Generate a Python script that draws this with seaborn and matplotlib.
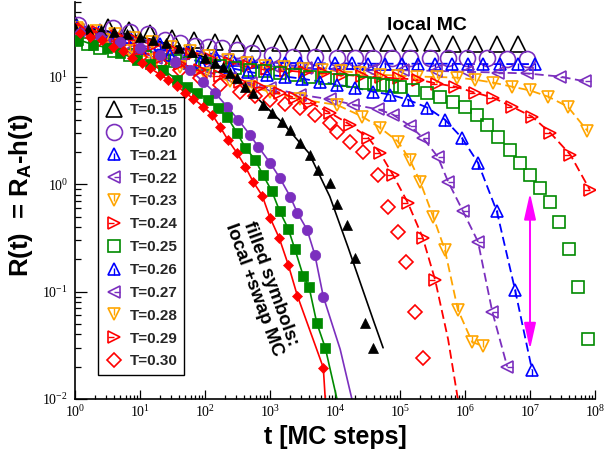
import numpy as np
import matplotlib
matplotlib.use("Agg")
import matplotlib.pyplot as plt
from matplotlib.path import Path
from matplotlib.ticker import LogLocator, FuncFormatter, NullFormatter
import seaborn as sns

sns.set_theme(style="ticks")
plt.rcParams["font.family"] = ["Liberation Sans", "DejaVu Sans"]
plt.rcParams["mathtext.fontset"] = "custom"
plt.rcParams["mathtext.rm"] = "Liberation Serif"
plt.rcParams["mathtext.it"] = "Liberation Serif:italic"
plt.rcParams["mathtext.bf"] = "Liberation Sans:bold"

# ---- local MC (open symbols): log10(t) and R(t)
lt_015 = [0.0, 0.5, 0.83, 1.16, 1.49, 1.83, 2.16, 2.49, 2.82, 3.15, 3.49, 3.82, 4.15, 4.49, 4.82, 5.15, 5.49, 5.82, 6.15, 6.49, 6.82]
R_015 = [31.0, 29.5, 27.7, 25.9, 23.3, 22.3, 21.4, 20.9, 20.9, 20.8, 20.8, 20.7, 20.7, 20.7, 20.6, 20.6, 20.6, 20.5, 20.5, 20.5, 20.5]

lt_020 = [0.05, 0.58, 0.85, 1.12, 1.38, 1.62, 1.85, 2.05, 2.26, 2.49, 2.72, 3.03, 3.35, 3.69, 4.03, 4.31, 4.58, 4.88, 5.15, 5.46, 5.74, 6.03, 6.34, 6.65, 6.95]
R_020 = [30.8, 28.9, 26.5, 24.9, 22.3, 20.9, 19.6, 19.2, 18.8, 18.0, 16.9, 16.2, 15.5, 15.3, 15.2, 15.1, 15.0, 15.0, 15.0, 14.9, 14.9, 14.9, 14.9, 14.8, 14.8]

lt_021 = [0.03, 0.38, 0.85, 1.31, 1.77, 2.15, 2.43, 2.72, 3.0, 3.23, 3.46, 3.74, 4.0, 4.26, 4.51, 4.77, 5.03, 5.28, 5.54, 5.8, 6.05, 6.28, 6.54, 6.82, 7.08]
R_021 = [30.2, 27.7, 23.8, 20.5, 18.0, 16.2, 14.5, 13.8, 13.6, 13.5, 13.5, 13.4, 13.4, 13.4, 13.3, 13.3, 13.3, 13.3, 13.3, 13.3, 13.2, 13.2, 13.2, 13.2, 13.2]

lt_022 = [0.05, 0.55, 1.05, 1.55, 2.05, 2.55, 3.05, 3.55, 4.05, 4.55, 5.05, 5.55, 6.03, 6.5, 6.95, 7.46, 7.85]
R_022 = [27.7, 23.0, 19.5, 16.5, 14.5, 13.3, 12.6, 12.2, 11.9, 11.7, 11.6, 11.4, 11.2, 11.0, 10.8, 10.1, 9.1]

lt_023 = [0.03, 0.32, 0.61, 0.9, 1.19, 1.48, 1.77, 2.06, 2.35, 2.64, 2.93, 3.22, 3.51, 3.8, 4.09, 4.38, 4.69, 4.97, 5.26, 5.57, 5.88, 6.15, 6.43, 6.72, 7.0, 7.28, 7.58, 7.88]
R_023 = [28.9, 27.0, 25.0, 23.0, 21.0, 19.0, 17.3, 15.8, 14.5, 13.5, 12.8, 12.3, 11.9, 11.6, 11.3, 11.0, 10.5, 10.3, 10.1, 10.0, 9.87, 9.46, 8.87, 8.14, 7.5, 6.56, 5.30, 3.17]

lt_024 = [0.06, 0.35, 0.64, 0.93, 1.22, 1.51, 1.8, 2.09, 2.38, 2.67, 2.96, 3.25, 3.54, 3.83, 4.12, 4.41, 4.7, 4.99, 5.28, 5.57, 5.85, 6.15, 6.43, 6.72, 7.03, 7.31, 7.62, 7.92]
R_024 = [28.0, 26.0, 24.0, 22.0, 20.0, 18.0, 16.3, 14.8, 13.6, 12.7, 12.0, 11.5, 11.1, 10.8, 10.5, 10.2, 9.9, 9.7, 9.46, 8.68, 8.14, 7.16, 6.43, 5.30, 4.28, 3.03, 1.89, 0.89]

lt_025 = [0.02, 0.2, 0.38, 0.6, 0.85, 1.08, 1.31, 1.54, 1.77, 2.0, 2.23, 2.46, 2.69, 2.92, 3.15, 3.38, 3.62, 3.85, 4.08, 4.27, 4.46, 4.6, 4.74, 4.87, 5.0, 5.2, 5.42, 5.62, 5.82, 6.0, 6.18, 6.34, 6.51, 6.69, 6.85, 7.0, 7.15, 7.31, 7.45, 7.6, 7.74, 7.89]
R_025 = [22.3, 20.3, 18.8, 17.4, 16.2, 15.3, 14.5, 14.0, 13.6, 13.2, 12.8, 12.2, 11.7, 11.3, 11.0, 10.5, 10.1, 9.8, 9.46, 9.15, 8.87, 8.68, 8.49, 8.3, 8.14, 7.63, 7.16, 6.56, 5.90, 5.30, 4.47, 3.60, 2.78, 2.11, 1.59, 1.23, 0.93, 0.69, 0.45, 0.252, 0.111, 0.036]

lt_026 = [0.03, 0.54, 1.0, 1.46, 1.92, 2.38, 2.66, 2.95, 3.23, 3.49, 3.77, 4.03, 4.31, 4.58, 4.85, 5.12, 5.42, 5.69, 5.95, 6.2, 6.49, 6.77, 7.03]
R_026 = [28.9, 23.3, 18.8, 16.2, 13.9, 12.2, 11.2, 10.5, 10.1, 9.66, 9.06, 8.49, 7.96, 7.31, 6.85, 6.15, 5.19, 4.01, 2.72, 1.59, 0.56, 0.104, 0.0188]

lt_027 = [0.05, 0.45, 0.85, 1.25, 1.62, 2.0, 2.38, 2.7, 3.0, 3.46, 3.92, 4.28, 4.66, 4.89, 5.15, 5.35, 5.58, 5.74, 5.97, 6.2, 6.42, 6.65]
R_027 = [27.7, 22.0, 18.0, 15.2, 13.1, 11.3, 9.87, 8.8, 7.96, 6.85, 6.2, 5.53, 5.0, 4.47, 3.52, 2.72, 1.81, 1.06, 0.56, 0.292, 0.065, 0.020]

lt_028 = [0.05, 0.45, 0.85, 1.25, 1.62, 2.0, 2.38, 2.7, 3.0, 3.46, 4.03, 4.42, 4.69, 4.97, 5.15, 5.31, 5.51, 5.69, 5.89, 6.11, 6.28]
R_028 = [27.7, 22.0, 17.5, 14.3, 12.3, 10.6, 9.2, 8.1, 7.3, 6.2, 5.5, 4.28, 3.38, 2.5, 1.70, 1.06, 0.50, 0.246, 0.068, 0.034, 0.031]

lt_029 = [0.05, 0.37, 0.69, 1.0, 1.31, 1.62, 1.92, 2.23, 2.54, 2.85, 3.15, 3.38, 3.62, 3.92, 4.23, 4.51, 4.69, 4.89, 5.12, 5.35, 5.54]
R_029 = [28.9, 24.0, 20.0, 17.3, 15.2, 13.3, 11.7, 10.3, 9.06, 8.0, 7.16, 6.4, 5.77, 4.66, 3.60, 2.72, 1.97, 1.23, 0.675, 0.318, 0.129]
lt_029_tail = [5.74, 5.89]
R_029_tail = [0.036, 0.010]

lt_030 = [0.05, 0.37, 0.69, 1.0, 1.31, 1.62, 1.92, 2.23, 2.54, 2.77, 3.0, 3.23, 3.46, 3.69, 3.92, 4.03, 4.23, 4.43, 4.66, 4.82, 4.97, 5.09, 5.23, 5.35]
R_030 = [27.7, 22.5, 18.0, 15.5, 13.6, 11.6, 9.87, 8.5, 7.31, 6.7, 6.15, 5.6, 5.19, 4.47, 3.76, 3.10, 2.50, 2.02, 1.23, 0.61, 0.362, 0.19, 0.064, 0.024]

# ---- local + swap MC (filled symbols)
lt_015s = [0.0, 0.2, 0.4, 0.6, 0.8, 1.0, 1.2, 1.4, 1.6, 1.8, 2.0, 2.15, 2.27, 2.38, 2.49, 2.62, 2.74, 2.89, 3.03, 3.18, 3.31, 3.46, 3.62, 3.74, 3.92, 4.03, 4.18, 4.31, 4.46, 4.58]
R_015s = [28.5, 28.0, 27.2, 26.2, 25.0, 23.7, 22.3, 20.6, 18.8, 17.0, 15.2, 13.6, 12.4, 11.0, 9.87, 8.14, 7.16, 5.53, 4.66, 3.84, 3.24, 2.45, 1.89, 1.37, 1.04, 0.65, 0.42, 0.207, 0.051, 0.030]
lt_015fit = [0.0, 0.4, 0.8, 1.2, 1.6, 2.0, 2.4, 2.8, 3.2, 3.6, 3.92, 4.2, 4.4, 4.6, 4.74]
R_015fit = [28.5, 27.2, 25.0, 22.3, 18.8, 15.2, 10.8, 6.4, 3.7, 1.95, 0.77, 0.26, 0.116, 0.052, 0.030]

lt_020s = [0.08, 0.38, 0.69, 1.0, 1.31, 1.54, 1.77, 1.97, 2.15, 2.34, 2.51, 2.69, 2.82, 3.0, 3.15, 3.31, 3.42, 3.57, 3.69, 3.82]
R_020s = [25.9, 23.8, 21.4, 18.8, 16.2, 13.9, 11.7, 9.06, 7.16, 5.30, 4.01, 2.90, 2.24, 1.59, 1.15, 0.77, 0.545, 0.378, 0.221, 0.090]
lt_020_tail = [4.08, 4.26]
R_020_tail = [0.029, 0.010]

lt_025s = [0.05, 0.28, 0.49, 0.69, 0.95, 1.15, 1.35, 1.57, 1.72, 1.88, 2.05, 2.2, 2.34, 2.49, 2.62, 2.77, 2.89, 3.03, 3.15, 3.28, 3.38, 3.51, 3.6, 3.72, 3.85]
R_025s = [22.3, 20.0, 18.8, 16.9, 14.5, 13.1, 11.7, 9.46, 8.14, 7.16, 6.15, 5.19, 4.28, 3.03, 2.20, 1.70, 1.23, 0.86, 0.56, 0.386, 0.252, 0.141, 0.111, 0.051, 0.030]
lt_025_tail = [4.03]
R_025_tail = [0.010]

lt_030s = [0.08, 0.23, 0.42, 0.58, 0.74, 0.88, 1.03, 1.15, 1.31, 1.43, 1.57, 1.69, 1.82, 1.97, 2.11, 2.23, 2.35, 2.49, 2.62, 2.74, 2.88, 3.0, 3.14, 3.28, 3.42, 3.82]
R_030s = [25.9, 23.8, 21.9, 19.2, 17.3, 15.2, 13.6, 12.2, 10.5, 9.46, 8.32, 7.16, 6.29, 5.30, 4.47, 3.45, 2.61, 1.97, 1.46, 1.06, 0.785, 0.49, 0.318, 0.179, 0.092, 0.0196]
lt_030_tail = [3.85]
R_030_tail = [0.010]

# magenta arrow at t = 1e7
arrow_t = 1e7
arrow_R = [0.83, 0.029]

black = "#000000"
purple = "#7b2fbe"
blue = "#0000ff"
orange = "#ffa500"
red = "#ff0000"
green = "#008a00"
magenta = "#ff00ff"

# small inner strokes for the "hatched" open triangles
hatch = {
    "^": Path([(0, -1), (0, 0.15)], [Path.MOVETO, Path.LINETO]),
    "v": Path([(0, 1), (0, -0.15)], [Path.MOVETO, Path.LINETO]),
    "<": Path([(1, 0), (0.05, 0)], [Path.MOVETO, Path.LINETO]),
    ">": Path([(-1, 0), (-0.05, 0)], [Path.MOVETO, Path.LINETO]),
}

fig, ax = plt.subplots(figsize=(6.06, 4.54), dpi=100)
fig.subplots_adjust(left=75 / 606, right=595 / 606, bottom=1 - 399 / 454, top=1 - 2 / 454)
ax.set_xscale("log")
ax.set_yscale("log")


def tt(lt):
    return 10 ** np.asarray(lt, dtype=float)


def line(lt, R, color, dashed):
    sns.lineplot(x=tt(lt), y=R, ax=ax, color=color, lw=1.3 if dashed else 1.2,
                 linestyle=(0, (5, 2.5)) if dashed else "-",
                 estimator=None, sort=False, zorder=2)


def open_marks(lt, R, marker, color, ms, hatched=False):
    h = ax.plot(tt(lt), R, ls="none", marker=marker, ms=ms, mfc="none",
                mec=color, mew=1.2, zorder=3)[0]
    if not hatched:
        return h
    h2 = ax.plot(tt(lt), R, ls="none", marker=hatch[marker], ms=ms, mfc="none",
                 mec=color, mew=1.0, zorder=3)[0]
    return (h, h2)


def filled_marks(lt, R, marker, color, ms):
    ax.plot(tt(lt), R, ls="none", marker=marker, ms=ms, mfc=color, mec=color,
            mew=0.5, zorder=4)


# dashed guide lines for the local MC data
line(lt_021, R_021, blue, True)
line(lt_022, R_022, purple, True)
line(lt_023, R_023, orange, True)
line(lt_024, R_024, red, True)
line(lt_026, R_026, blue, True)
line(lt_027, R_027, purple, True)
line(lt_028, R_028, orange, True)
line(lt_029 + lt_029_tail, R_029 + R_029_tail, red, True)

# solid lines for the swap data
line(lt_015fit, R_015fit, black, False)
line(lt_020s + lt_020_tail, R_020s + R_020_tail, purple, False)
line(lt_025s + lt_025_tail, R_025s + R_025_tail, green, False)
line(lt_030s + lt_030_tail, R_030s + R_030_tail, red, False)

handles = [
    open_marks(lt_015, R_015, "^", black, 11),
    open_marks(lt_020, R_020, "o", purple, 11.5),
    open_marks(lt_021, R_021, "^", blue, 8.5, True),
    open_marks(lt_022, R_022, "<", purple, 8.5, True),
    open_marks(lt_023, R_023, "v", orange, 8.5, True),
    open_marks(lt_024, R_024, ">", red, 8.5, True),
    open_marks(lt_025, R_025, "s", green, 8.5),
    open_marks(lt_026, R_026, "^", blue, 8.5, True),
    open_marks(lt_027, R_027, "<", purple, 8.5, True),
    open_marks(lt_028, R_028, "v", orange, 8.5, True),
    open_marks(lt_029, R_029, ">", red, 8.5, True),
    open_marks(lt_030, R_030, "D", red, 7.6),
]
labels = ["T=0.15", "T=0.20", "T=0.21", "T=0.22", "T=0.23", "T=0.24",
          "T=0.25", "T=0.26", "T=0.27", "T=0.28", "T=0.29", "T=0.30"]

filled_marks(lt_015s, R_015s, "^", black, 7)
filled_marks(lt_020s, R_020s, "o", purple, 7.5)
filled_marks(lt_025s, R_025s, "s", green, 6.5)
filled_marks(lt_030s, R_030s, "D", red, 5)

ax.annotate("", xy=(arrow_t, arrow_R[0]), xytext=(arrow_t, arrow_R[1]),
            arrowprops=dict(arrowstyle="<|-|>,head_length=0.8,head_width=0.18",
                            color=magenta, lw=1.4, mutation_scale=20,
                            shrinkA=0, shrinkB=0))

ax.set_xlim(1, 1e8)
ax.set_ylim(0.01, 50)

fmt = FuncFormatter(lambda v, p: r"$\mathrm{10^{%d}}$" % int(round(np.log10(v))))
for axis in (ax.xaxis, ax.yaxis):
    axis.set_major_locator(LogLocator(base=10, numticks=20))
    axis.set_minor_locator(LogLocator(base=10, subs=np.arange(2, 10), numticks=20))
    axis.set_major_formatter(fmt)
    axis.set_minor_formatter(NullFormatter())

ax.tick_params(which="both", direction="in", width=0.9, color="black",
               labelcolor="black", labelsize=10)
ax.tick_params(axis="x", which="major", length=6.5, pad=4)
ax.tick_params(axis="x", which="minor", length=3.2)
ax.tick_params(axis="y", which="major", length=8.5, pad=5)
ax.tick_params(axis="y", which="minor", length=4.5)

sns.despine(ax=ax)
for s in ("left", "bottom"):
    ax.spines[s].set_linewidth(1.2)
    ax.spines[s].set_color("black")

ax.set_xlabel("t [MC steps]", fontsize=18, fontweight="bold", color="black")
ax.set_ylabel(r"R(t)  = R$_\mathbf{A}$-h(t)", fontsize=18.5, fontweight="bold", color="black")
ax.xaxis.set_label_coords(0.5, -0.066)
ax.yaxis.set_label_coords(-0.077, 0.514)

ax.text(0.677, 0.94, "local MC", transform=ax.transAxes, ha="center", va="center",
        fontsize=14, fontweight="bold", color="black")
ax.text(0.36, 0.282, "filled symbols:\nlocal +swap MC", transform=ax.transAxes,
        ha="center", va="center", rotation=-70, rotation_mode="anchor",
        fontsize=13.5, fontweight="bold", color="black", linespacing=1.0)

leg = ax.legend(handles, labels, loc="upper left", bbox_to_anchor=(0.044, 0.761),
                borderaxespad=0, frameon=True, fancybox=False, edgecolor="black",
                framealpha=1, numpoints=1, handlelength=1.3, handletextpad=0.4,
                borderpad=0.4, labelspacing=0.58,
                prop={"weight": "bold", "size": 11})
leg.get_frame().set_linewidth(1.0)

fig.savefig("out.png", dpi=100)
